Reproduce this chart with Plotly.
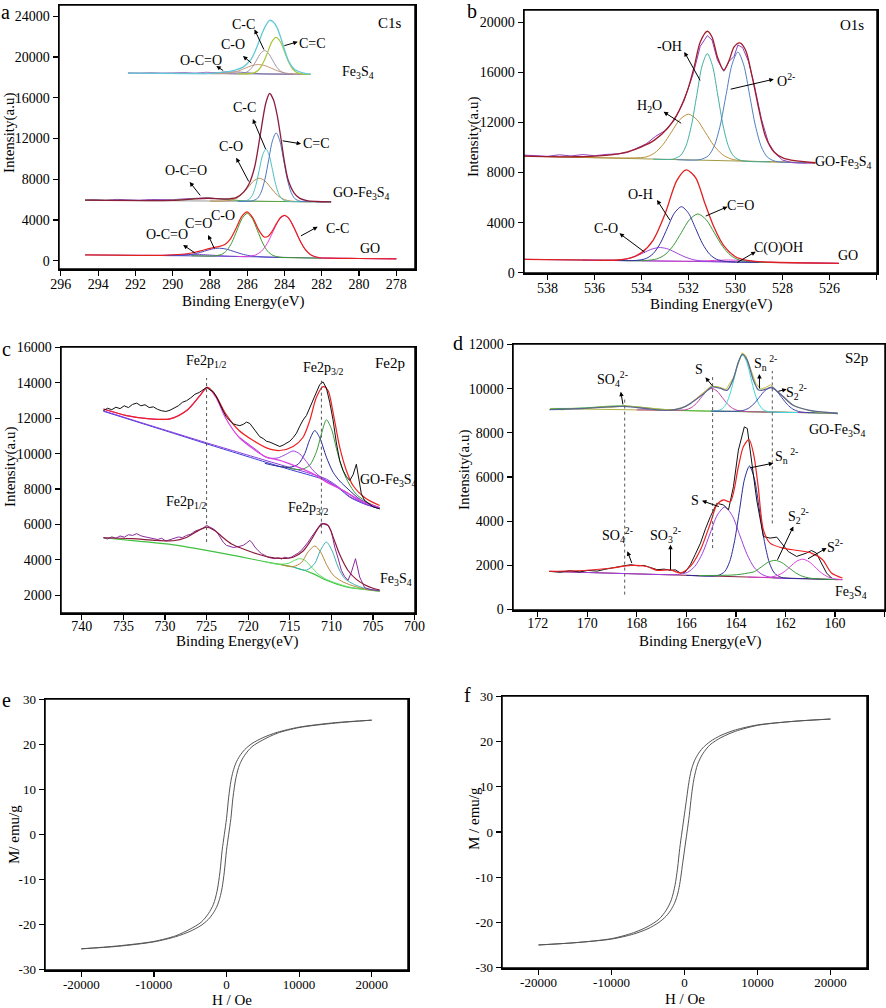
import plotly.graph_objects as go

FONT = "Liberation Serif, Times New Roman, serif"
W, H = 886, 1008

# ================= DATA =================
# ---- Panel a : C1s ----
a_go_base_x = [294.7, 290, 286, 282, 278]
a_go_base_y = [585, 510, 410, 270, 200]
a_go_cc_x = [286.5, 286.0, 285.55, 285.24, 284.93, 284.62, 284.31, 284.0, 283.69, 283.38, 283.07, 282.76, 282.45, 282.0, 281.0, 280.0, 278.0]
a_go_cc_y = [420, 433, 576, 939, 1703, 2855, 3980, 4450, 3955, 2805, 1631, 839, 453, 291, 250, 230, 200]
a_go_co_x = [289.0, 288.0, 287.76, 287.375, 287.1, 286.825, 286.55, 286.275, 286.0, 285.725, 285.45, 285.175, 284.9, 284.625, 284.24, 283.5, 282.0]
a_go_co_y = [500, 470, 487, 636, 1016, 1809, 2997, 4160, 4650, 4142, 2964, 1752, 934, 536, 357, 305, 268]
a_go_cdo_x = [290.5, 290.1, 289.5, 289.1, 288.7, 288.3, 287.9, 287.5, 287.1, 286.7, 286.3, 285.9, 285.5, 285.0, 284.0]
a_go_cdo_y = [520, 518, 535, 597, 737, 949, 1157, 1240, 1137, 909, 675, 512, 430, 366, 320]
a_go_oco_x = [291.5, 290.6, 289.7, 289.25, 288.8, 288.35, 287.9, 287.0, 286.0]
a_go_oco_y = [532, 538, 594, 627, 635, 610, 556, 460, 411]
a_go_env_x = [294.7, 292, 290.5, 289.5, 289, 288.5, 288, 287.6, 287.2, 286.9, 286.6, 286.3, 286.0, 285.7, 285.4, 285.1, 284.9, 284.7, 284.4, 284.2, 284.0, 283.8, 283.5, 283.2, 282.9, 282.6, 282.2, 281.5, 280, 278]
a_go_env_y = [585, 545, 546, 646, 772, 984, 1227, 1370, 1605, 2158, 3189, 4333, 4809, 4213, 3076, 2346, 2381, 2797, 3756, 4269, 4455, 4236, 3288, 2092, 1141, 599, 331, 260, 230, 200]

a_mid_base_x = [294.7, 281.5]
a_mid_base_y = [5950, 5790]
a_mid_cdc_x = [286.5, 285.73, 285.45, 285.25, 285.05, 284.85, 284.65, 284.45, 284.25, 284.05, 283.85, 283.65, 283.45, 283.17, 282.5, 281.5]
a_mid_cdc_y = [5850, 5883, 6135, 6748, 8020, 9914, 11769, 12557, 11764, 9905, 8006, 6730, 6111, 5853, 5805, 5790]
a_mid_cc_x = [286.5, 286.12, 285.875, 285.7, 285.525, 285.35, 285.175, 285.0, 284.825, 284.65, 284.475, 284.3, 284.125, 283.88, 283.0]
a_mid_cc_y = [5850, 5877, 6071, 6540, 7512, 8961, 10381, 10984, 10377, 8953, 7500, 6523, 6050, 5851, 5810]
a_mid_co_x = [288.0, 287.27, 286.85, 286.55, 286.25, 285.95, 285.65, 285.35, 285.05, 284.75, 284.45, 284.15, 283.85, 283.43, 282.5]
a_mid_co_y = [5865, 5872, 5954, 6158, 6585, 7222, 7845, 8108, 7838, 7208, 6564, 6131, 5921, 5830, 5805]
a_mid_oco_x = [294.7, 292, 291.1, 290.1, 289.6, 289.1, 288.6, 288.1, 287.6, 287.1, 286.6, 286.1, 285.1, 281.5]
a_mid_oco_y = [5950, 5917, 5909, 5931, 5976, 6046, 6114, 6140, 6102, 6022, 5940, 5883, 5837, 5790]
a_mid_env_x = [294.7, 290, 289, 288.1, 287.2, 286.6, 286.2, 285.9, 285.6, 285.3, 285.0, 284.8, 284.6, 284.4, 284.2, 284.0, 283.8, 283.5, 283.2, 282.8, 282.3, 281.5]
a_mid_env_y = [5950, 5937, 6061, 6140, 6060, 6199, 6738, 7558, 9229, 12377, 15514, 16420, 15822, 14339, 12101, 9664, 7900, 6700, 6150, 5900, 5820, 5790]
a_mid_raw_x = [294.7, 294.2, 293.6, 293.0, 292.4, 291.8, 291.2, 290.6, 290.0, 289.4, 288.8, 288.2, 287.6, 287.0]
a_mid_raw_y = [5960, 6010, 5940, 6030, 5990, 5950, 6020, 5980, 6000, 6080, 6120, 6180, 6090, 6070]

a_top_base_x = [292.4, 282.6]
a_top_base_y = [18420, 18300]
a_top_cdc_x = [286.5, 285.89, 285.575, 285.35, 285.125, 284.9, 284.675, 284.45, 284.225, 284.0, 283.775, 283.55, 283.325, 283.01, 282.6]
a_top_cdc_y = [18347, 18362, 18494, 18820, 19500, 20497, 21502, 21922, 21497, 20500, 19483, 18798, 18467, 18327, 18300]
a_top_cc_x = [287.0, 286.41, 286.12, 285.91, 285.7, 285.49, 285.28, 285.07, 284.86, 284.65, 284.44, 284.23, 284.02, 283.73, 283.0]
a_top_cc_y = [18355, 18362, 18445, 18652, 19086, 19731, 20363, 20631, 20358, 19720, 19069, 18631, 18418, 18328, 18305]
a_top_co_x = [288.0, 287.64, 287.15, 286.8, 286.45, 286.1, 285.75, 285.4, 285.05, 284.7, 284.35, 284.0, 283.65, 283.16, 282.6]
a_top_co_y = [18366, 18367, 18396, 18476, 18648, 18906, 19159, 19264, 19151, 18890, 18624, 18443, 18354, 18313, 18300]
a_top_oco_x = [289.5, 288.94, 288.45, 288.1, 287.75, 287.4, 287.05, 286.7, 286.35, 286.0, 285.65, 285.3, 284.95, 284.46, 283.5]
a_top_oco_y = [18384, 18378, 18379, 18391, 18420, 18467, 18513, 18530, 18505, 18451, 18396, 18358, 18337, 18324, 18311]
a_top_env_x = [292.4, 289, 288, 287.3, 286.7, 286.2, 285.8, 285.5, 285.2, 285.0, 284.8, 284.6, 284.4, 284.2, 284.0, 283.8, 283.5, 283.2, 282.9, 282.6]
a_top_env_y = [18420, 18380, 18399, 18506, 18696, 19031, 19756, 20897, 22329, 23100, 23600, 23444, 22879, 21888, 20716, 19675, 18850, 18550, 18400, 18300]
a_top_raw_x = [292.4, 291.8, 291.2, 290.6, 290.0, 289.4, 288.8, 288.2, 287.6, 287.0]
a_top_raw_y = [18430, 18400, 18460, 18410, 18440, 18480, 18420, 18500, 18450, 18560]

# ---- Panel b : O1s ----
b_go_base_x = [539, 525.6]
b_go_base_y = [1065, 745]
b_go_oh_x = [535.5, 534.22, 533.8, 533.5, 533.2, 532.9, 532.6, 532.3, 532.0, 531.7, 531.4, 531.1, 530.8, 530.38, 529.0]
b_go_oh_y = [985, 977, 1133, 1525, 2344, 3567, 4765, 5270, 4750, 3538, 2301, 1468, 1061, 885, 826]
b_go_cdo_x = [535.0, 533.84, 533.35, 533.0, 532.65, 532.3, 531.95, 531.6, 531.25, 530.9, 530.55, 530.2, 529.85, 529.36, 528.0]
b_go_cdo_y = [970, 966, 1098, 1437, 2149, 3213, 4255, 4694, 4238, 3180, 2099, 1370, 1014, 858, 802]
b_go_co_x = [536.5, 535.44, 534.95, 534.6, 534.25, 533.9, 533.55, 533.2, 532.85, 532.5, 532.15, 531.8, 531.45, 530.96, 530.0]
b_go_co_y = [1005, 988, 1016, 1107, 1304, 1599, 1889, 2007, 1872, 1565, 1253, 1040, 933, 881, 850]
b_go_cooh_x = [534, 532.6, 532.2, 531.8, 531.4, 531.0, 530.6, 530.2, 529.8, 529.4, 529.0, 528.6, 528.2, 527, 525.6]
b_go_cooh_y = [946, 915, 910, 913, 933, 965, 996, 1005, 977, 927, 875, 837, 814, 779, 745]
b_go_env_x = [539, 536, 535, 534.5, 534, 533.5, 533, 532.5, 532.1, 531.7, 531.3, 530.9, 530.5, 530, 529.5, 529, 528.5, 527.5, 525.6]
b_go_env_y = [1065, 993, 1009, 1157, 1598, 2606, 4683, 7360, 8220, 7600, 5526, 3571, 2157, 1274, 982, 879, 830, 790, 745]

b_top_base_x = [539, 526.6]
b_top_base_y = [9320, 8780]
b_top_oh_x = [533.5, 532.64, 532.325, 532.1, 531.875, 531.65, 531.425, 531.2, 530.975, 530.75, 530.525, 530.3, 530.075, 529.76, 528.5]
b_top_oh_y = [9075, 9088, 9398, 10169, 11777, 14174, 16522, 17515, 16502, 14136, 11719, 10091, 9301, 8964, 8858]
b_top_o2_x = [532.5, 531.5, 531.15, 530.9, 530.65, 530.4, 530.15, 529.9, 529.65, 529.4, 529.15, 528.9, 528.65, 528.3, 527.0]
b_top_o2_y = [9032, 9040, 9356, 10143, 11784, 14233, 16631, 17645, 16609, 14189, 11719, 10057, 9248, 8901, 8793]
b_top_h2o_x = [539, 535.5, 534.3, 533.8, 533.44, 533.08, 532.72, 532.36, 532.0, 531.64, 531.28, 530.92, 530.56, 530.2, 529.7, 528.5, 526.6]
b_top_h2o_y = [9320, 9177, 9175, 9253, 9573, 10249, 11263, 12256, 12670, 12225, 11201, 10155, 9447, 9097, 8937, 8863, 8780]
b_top_env_x = [539, 536.8, 535.4, 534.6, 534.0, 533.45, 532.9, 532.5, 532.04, 531.76, 531.5, 531.2, 531.0, 530.77, 530.5, 530.27, 530.06, 529.82, 529.57, 529.29, 529.0, 528.72, 528.37, 527.94, 526.6]
b_top_env_y = [9317, 9264, 9397, 9663, 10062, 10595, 11526, 12591, 14588, 16451, 18447, 19300, 18847, 17250, 16185, 16984, 18048, 18368, 17782, 15652, 12990, 10861, 9663, 9131, 8785]
b_top_raw_x = [539, 538.5, 538, 537.5, 537, 536.5, 536, 535.5, 535, 534.6, 534.2, 533.8, 533.4, 533.0, 532.6, 532.2, 531.8, 531.5, 531.2, 531.0, 530.77, 530.5, 530.27, 530.06, 529.9, 529.7, 529.45, 529.2, 528.9, 528.6, 528.3, 528.0, 527.6, 527.2, 526.6]
b_top_raw_y = [9400, 9380, 9300, 9420, 9330, 9440, 9350, 9450, 9500, 9600, 9980, 10300, 10900, 11350, 12200, 13700, 15900, 18100, 18950, 18600, 17000, 16100, 16900, 17300, 18200, 18000, 16900, 15000, 12300, 10400, 9500, 9000, 8800, 8750, 8760]

# ---- Panel c : Fe2p ----
c_top_raw_x = [737.4, 736.9, 736.4, 735.9, 735.4, 734.9, 734.4, 733.9, 733.4, 732.9, 732.4, 731.9, 731.4, 730.9, 730.4, 729.9, 729.4, 728.9, 728.4, 727.9, 727.4, 726.9, 726.4, 725.9, 725.4, 725.0, 724.6, 724.2, 723.8, 723.4, 723.0, 722.6, 722.2, 721.8, 721.4, 721.0, 720.6, 720.2, 719.8, 719.4, 719.0, 718.6, 718.2, 717.8, 717.4, 717.0, 716.6, 716.2, 715.8, 715.4, 715.0, 714.6, 714.2, 713.8, 713.4, 713.0, 712.6, 712.2, 711.8, 711.4, 711.0, 710.6, 710.2, 709.8, 709.4, 709.0, 708.6, 708.2, 707.8, 707.4, 707.0, 706.7, 706.4, 706.0, 705.5, 705.0, 704.2]
c_top_raw_y = [12430, 12560, 12480, 12620, 12540, 12700, 12600, 12780, 12850, 12700, 12760, 12600, 12640, 12500, 12420, 12380, 12450, 12560, 12700, 12900, 12990, 13150, 13350, 13450, 13620, 13740, 13600, 13500, 13200, 12750, 12400, 12050, 11850, 11680, 11620, 11580, 11650, 11780, 11700, 11450, 11200, 10950, 10850, 10700, 10650, 10560, 10450, 10400, 10480, 10600, 10700, 10900, 11150, 11550, 11900, 12150, 12600, 13000, 13500, 13900, 14050, 13700, 12900, 11900, 10600, 9600, 9050, 8700, 8480, 8800, 9400, 8500, 7730, 7350, 7150, 7000, 6880]
c_top_env_x = [737.4, 734.6, 731.8, 729.4, 727.4, 725.8, 724.9, 723.9, 722.7, 721.1, 719.4, 717.8, 716.2, 714.6, 713.4, 712.6, 711.8, 711.0, 710.4, 709.8, 709.0, 708.2, 707.4, 705.8, 704.2]
c_top_env_y = [12520, 12150, 11960, 11960, 12430, 13276, 13744, 13276, 12244, 11303, 10740, 10327, 10175, 10401, 10925, 11866, 13180, 13784, 13558, 12335, 10361, 9048, 8200, 7449, 7073]
c_top_bg_x = [737.4, 733, 729, 725, 721, 717.5, 714.6, 712.5, 710.6, 709, 707.8, 706, 704.2]
c_top_bg_y = [12391, 11740, 11150, 10553, 9970, 9460, 9048, 8770, 8484, 8000, 7543, 7150, 6885]
c_top_bg2_y = [12420, 11770, 11190, 10610, 10050, 9560, 9160, 8870, 8560, 8060, 7580, 7170, 6890]
c_top_mag_x = [737.4, 734.6, 731.8, 729.4, 727.4, 725.8, 724.9, 723.9, 722.7, 721.1, 719.4, 717.8, 716.2, 714.6, 712.2, 710.6, 708.5, 706.5, 704.2]
c_top_mag_y = [12520, 12150, 11960, 11960, 12430, 13276, 13744, 13200, 12000, 10925, 10271, 9800, 9620, 9350, 8860, 8390, 7900, 7350, 6950]
c_top_vio_x = [721, 719, 717.8, 716.5, 715.5, 714.6, 713.8, 713.0, 712.2, 711.2, 710.0, 708.5, 706.5, 704.2]
c_top_vio_y = [10900, 10200, 9780, 9750, 9950, 10150, 9980, 9550, 9050, 8650, 8300, 7900, 7300, 6900]
c_top_navy_x = [718, 716, 715, 714, 713.2, 712.6, 712.0, 711.4, 710.6, 709.8, 709.0, 708, 706.5, 704.2]
c_top_navy_y = [9450, 9250, 9230, 9400, 10000, 10800, 11300, 10900, 9800, 8950, 8450, 8000, 7400, 6920]
c_top_grn_x = [716, 714.5, 713.5, 712.6, 711.8, 711.2, 710.6, 710.0, 709.4, 708.8, 708.0, 707.0, 705.5, 704.2]
c_top_grn_y = [9300, 9120, 9120, 9350, 10100, 11100, 11906, 11400, 10300, 9300, 8400, 7700, 7200, 6950]

c_bot_raw_x = [737.4, 736.9, 736.4, 735.9, 735.4, 734.9, 734.4, 733.9, 733.4, 732.9, 732.4, 731.9, 731.4, 730.9, 730.4, 729.9, 729.4, 728.9, 728.4, 727.9, 727.4, 726.9, 726.4, 725.9, 725.4, 725.0, 724.6, 724.2, 723.8, 723.4, 723.0, 722.6, 722.2, 721.8, 721.4, 721.0, 720.6, 720.2, 719.8, 719.5, 719.2, 718.8, 718.4, 718.0, 717.6, 717.2, 716.8, 716.4, 716.0, 715.6, 715.2, 714.8, 714.4, 714.0, 713.6, 713.2, 712.8, 712.4, 712.0, 711.6, 711.2, 710.8, 710.4, 710.0, 709.6, 709.2, 708.8, 708.4, 708.0, 707.6, 707.1, 706.6, 706.0, 705.5, 705.0, 704.2]
c_bot_raw_y = [5253, 5180, 5300, 5220, 5350, 5280, 5420, 5380, 5480, 5360, 5300, 5240, 5197, 5150, 5220, 5063, 5140, 5210, 5290, 5260, 5380, 5450, 5620, 5700, 5800, 5947, 5850, 5750, 5600, 5300, 5000, 4819, 4780, 4700, 4724, 4760, 4819, 4950, 5101, 4950, 4724, 4520, 4350, 4255, 4150, 4100, 4069, 4120, 4050, 4150, 4100, 4159, 4250, 4380, 4537, 4750, 5000, 5289, 5550, 5850, 6076, 6000, 5947, 5600, 4724, 4100, 3410, 3050, 2846, 3300, 4069, 3032, 2434, 2350, 2300, 2282]
c_bot_env_x = [737.4, 734, 731, 729, 727.5, 726, 725, 724, 723, 722, 720.5, 719, 717.5, 716, 714.6, 713.4, 712.4, 711.5, 711, 710.4, 709.8, 709, 708, 707, 706, 705, 704.2]
c_bot_env_y = [5250, 5200, 5100, 5080, 5250, 5650, 5850, 5650, 5250, 4900, 4600, 4350, 4150, 4080, 4150, 4500, 5150, 5850, 6040, 5950, 5300, 4300, 3400, 2900, 2600, 2400, 2300]
c_bot_bg_x = [737.4, 733, 729, 725, 721, 717.8, 714.6, 712.2, 710.6, 708.2, 706, 704.2]
c_bot_bg_y = [5250, 5050, 4850, 4537, 4180, 3880, 3598, 3223, 2846, 2470, 2330, 2230]
c_bot_lg_x = [718, 716.5, 715.2, 714.4, 713.8, 713.2, 712.4, 711.6, 710.6, 709.5, 708, 706, 704.2]
c_bot_lg_y = [3900, 3760, 3800, 3980, 4069, 3980, 3600, 3200, 2900, 2700, 2480, 2330, 2230]
c_bot_brn_x = [716, 714.6, 713.6, 712.8, 712.0, 711.3, 710.6, 709.8, 708.8, 707.5, 706, 704.2]
c_bot_brn_y = [3720, 3620, 3850, 4450, 4781, 4450, 3750, 3150, 2800, 2550, 2350, 2240]
c_bot_teal_x = [714.5, 713.0, 712.0, 711.3, 710.6, 709.9, 709.2, 708.4, 707.2, 706, 704.2]
c_bot_teal_y = [3580, 3420, 3800, 4550, 5005, 4500, 3600, 2950, 2600, 2400, 2250]

# ---- Panel d : S2p ----
d_top_base_x = [171.5, 159.9]
d_top_base_y = [9100, 8890]
d_top_so4_x = [171.5, 170.6, 170.1, 169.6, 169.1, 168.6, 168.1, 167.6, 167.1, 166.6, 165.5, 164.0, 162.0, 159.9]
d_top_so4_y = [9103, 9107, 9130, 9169, 9207, 9218, 9188, 9132, 9075, 9034, 8991, 8964, 8928, 8890]
d_top_s_x = [168.0, 167.0, 166.31, 166.02, 165.81, 165.6, 165.39, 165.18, 164.97, 164.76, 164.55, 164.34, 164.13, 163.92, 163.63, 162.5, 161.0]
d_top_s_y = [9039, 9030, 9026, 9046, 9136, 9327, 9612, 9893, 10010, 9885, 9597, 9305, 9106, 9008, 8964, 8937, 8910]
d_top_sn_x = [165.0, 164.79, 164.555, 164.39, 164.225, 164.06, 163.895, 163.73, 163.565, 163.4, 163.235, 163.07, 162.905, 162.67, 161.5]
d_top_sn_y = [8982, 8993, 9086, 9317, 9799, 10518, 11221, 11519, 11215, 10506, 9781, 9293, 9056, 8955, 8919]
d_top_s2_x = [165.0, 164.04, 163.725, 163.5, 163.275, 163.05, 162.825, 162.6, 162.375, 162.15, 161.925, 161.7, 161.475, 161.16, 159.9]
d_top_s2_y = [8982, 8978, 9007, 9104, 9308, 9614, 9914, 10039, 9906, 9598, 9284, 9072, 8967, 8920, 8890]
d_top_env_x = [171.53, 170.2, 168.52, 167.5, 166.78, 166.2, 165.84, 165.3, 164.97, 164.65, 164.36, 164.1, 163.9, 163.74, 163.55, 163.3, 163.1, 162.96, 162.75, 162.55, 162.3, 161.95, 161.69, 161.02, 160.4, 159.88]
d_top_env_y = [9051, 9100, 9200, 9080, 9020, 9120, 9322, 9773, 10071, 10020, 9922, 10450, 11200, 11546, 11300, 10400, 9950, 9922, 9990, 10071, 9850, 9500, 9246, 9020, 8930, 8871]
d_top_raw_x = [171.5, 171.0, 170.5, 170.0, 169.5, 169.0, 168.5, 168.0, 167.5, 167.0, 166.5, 166.0, 165.6, 165.3, 165.0, 164.7, 164.4, 164.1, 163.9, 163.75, 163.6, 163.4, 163.2, 163.0, 162.8, 162.6, 162.4, 162.2, 161.9, 161.6, 161.2, 160.8, 160.4, 159.9]
d_top_raw_y = [9080, 9040, 9110, 9090, 9170, 9150, 9230, 9180, 9120, 9060, 9050, 9200, 9550, 9820, 10120, 10080, 9960, 10500, 11150, 11620, 11500, 10900, 10250, 9980, 10050, 10180, 9950, 9700, 9400, 9200, 9050, 8950, 8900, 8880]

d_bot_base_x = [171.53, 159.7]
d_bot_base_y = [1727, 1349]
d_bot_raw_x = [171.53, 171.1, 170.7, 170.3, 169.99, 169.6, 169.3, 169.05, 168.65, 168.25, 167.95, 167.72, 167.45, 167.18, 166.9, 166.64, 166.45, 166.24, 166.05, 165.84, 165.64, 165.43, 165.23, 165.03, 164.77, 164.5, 164.3, 164.1, 163.9, 163.66, 163.54, 163.36, 163.16, 162.89, 162.62, 162.35, 162.15, 161.89, 161.55, 161.15, 160.95, 160.75, 160.55, 160.34, 160.14]
d_bot_raw_y = [1727, 1690, 1760, 1700, 1773, 1740, 1820, 1880, 1954, 2030, 1980, 1998, 1900, 1804, 1830, 1773, 1800, 1655, 1700, 2030, 2500, 3008, 3650, 4208, 4812, 4736, 4510, 5561, 7216, 8267, 8195, 6765, 4961, 3306, 3234, 3279, 3008, 2629, 2404, 2557, 2674, 2557, 2106, 1655, 1430]
d_bot_env_x = [171.53, 170, 169, 168.25, 167.6, 167.18, 166.64, 166.24, 165.84, 165.43, 165.03, 164.77, 164.5, 164.23, 163.9, 163.7, 163.47, 163.29, 163.1, 162.89, 162.62, 162.1, 161.5, 160.95, 160.5, 160.14, 159.7]
d_bot_env_y = [1727, 1780, 1880, 1998, 1950, 1773, 1800, 1655, 1954, 2707, 3909, 4736, 4961, 4887, 6464, 7366, 7697, 7066, 5561, 3608, 3008, 2782, 2674, 2557, 2255, 1655, 1430]
d_bot_s_x = [171.5, 167.0, 166.37, 165.95, 165.65, 165.35, 165.05, 164.75, 164.45, 164.15, 163.85, 163.55, 163.25, 162.95, 162.53, 161.5]
d_bot_s_y = [1730, 1584, 1583, 1688, 1965, 2549, 3422, 4278, 4642, 4258, 3384, 2497, 1887, 1592, 1441, 1407]
d_bot_sn_x = [166.0, 164.73, 164.45, 164.25, 164.05, 163.85, 163.65, 163.45, 163.25, 163.05, 162.85, 162.65, 162.45, 162.17, 161.0, 159.9]
d_bot_sn_y = [1552, 1541, 1723, 2175, 3122, 4533, 5915, 6499, 5902, 4507, 3083, 2123, 1658, 1458, 1391, 1355]
d_bot_s2_x = [165.5, 164.18, 163.795, 163.52, 163.245, 162.97, 162.695, 162.42, 162.145, 161.87, 161.595, 161.32, 161.045, 160.66, 159.9]
d_bot_s2_y = [1540, 1560, 1600, 1650, 1720, 1933, 2143, 2227, 2125, 1898, 1667, 1508, 1427, 1385, 1355]
d_bot_sm_x = [163.5, 162.9, 162.55, 162.3, 162.05, 161.8, 161.55, 161.3, 161.05, 160.8, 160.55, 160.3, 160.05, 159.7]
d_bot_sm_y = [1471, 1457, 1480, 1552, 1711, 1951, 2186, 2280, 2169, 1918, 1662, 1487, 1399, 1355]

# ---- Panels e, f : hysteresis ----
e_up_H = [20000, 15000, 10000, 7000, 5000, 3500, 2500, 1800, 1300, 900, 600, 300, 0, -300, -600, -900, -1300, -1800, -2500, -3500, -5000, -7000, -10000, -15000, -20000]
e_up_M = [25.4, 24.85, 23.85, 22.7, 21.5, 20.2, 18.85, 17.4, 15.9, 14.0, 11.8, 8.3, 3.5, 0, -3.5, -8.3, -12.6, -15.5, -17.6, -19.5, -21.0, -22.5, -23.75, -24.75, -25.4]
e_lo_H = [-20000, -15000, -10000, -7000, -5000, -3500, -2500, -1800, -1300, -900, -600, -300, 0, 300, 600, 900, 1300, 1800, 2500, 3500, 5000, 7000, 10000, 15000, 20000]
e_lo_M = [-25.4, -24.85, -23.85, -22.7, -21.5, -20.2, -18.85, -17.4, -15.9, -14.0, -11.8, -8.3, -3.5, 0, 3.5, 8.3, 12.6, 15.5, 17.6, 19.5, 21.0, 22.5, 23.75, 24.75, 25.4]
f_up_H = [20000, 15000, 10000, 7000, 5000, 3500, 2500, 1800, 1300, 900, 600, 300, 0, -350, -650, -950, -1300, -1800, -2500, -3500, -5000, -7000, -10000, -15000, -20000]
f_up_M = [25.0, 24.5, 23.7, 22.6, 21.4, 20.0, 18.6, 17.1, 15.5, 13.5, 11.0, 7.5, 4.0, 0, -3.6, -8.0, -11.8, -15.0, -17.3, -19.3, -20.9, -22.3, -23.6, -24.5, -25.0]
f_lo_H = [-20000, -15000, -10000, -7000, -5000, -3500, -2500, -1800, -1300, -900, -600, -300, 0, 350, 650, 950, 1300, 1800, 2500, 3500, 5000, 7000, 10000, 15000, 20000]
f_lo_M = [-25.0, -24.5, -23.7, -22.6, -21.4, -20.0, -18.6, -17.1, -15.5, -13.5, -11.0, -7.5, -4.0, 0, 3.6, 8.0, 11.8, 15.0, 17.3, 19.3, 20.9, 22.3, 23.6, 24.5, 25.0]

hyst_x_ticks = [-20000, -10000, 0, 10000, 20000]
hyst_x_text = ["-20000", "-10000", "0", "10000", "20000"]
hyst_y_ticks = [-30, -20, -10, 0, 10, 20, 30]
hyst_y_text = ["-30", "-20", "-10", "0", "10", "20", "30"]

# labels: (x, y, text)
a_labels = [(286.2, 23220, "C-C"), (286.77, 21240, "C-O"), (288.46, 19680, "O-C=O"), (282.5, 21340, "C=C"),
            (280.04, 18470, "Fe<sub>3</sub>S<sub>4</sub>"), (278.35, 23350, "C1s"),
            (286.14, 15050, "C-C"), (286.86, 11250, "C-O"), (289.26, 8880, "O-C=O"), (282.3, 11480, "C=C"),
            (279.85, 6600, "GO-Fe<sub>3</sub>S<sub>4</sub>"),
            (287.3, 4490, "C-O"), (288.6, 3680, "C=O"), (290.3, 2540, "O-C=O"), (281.15, 3150, "C-C"), (279.42, 1240, "GO")]
a_arrows = [(285.07, 20585, 285.61, 22700), (285.7, 19290, 286.23, 20100), (287.21, 18570, 287.66, 19120),
            (284.09, 21070, 283.29, 21490), (284.98, 10830, 285.7, 13920), (285.88, 7640, 286.59, 10120),
            (288.46, 6270, 289.09, 7740), (284.18, 11800, 283.11, 11480), (287.73, 1073, 288.1, 2537),
            (288.73, 683, 289.44, 1561), (283.2, 2370, 282.22, 3346)]
b_labels = [(525.05, 19780, "O1s"), (532.8, 18050, "-OH"), (527.87, 15390, "O<sup>2-</sup>"),
            (533.66, 13310, "H<sub>2</sub>O"), (525.4, 8785, "GO-Fe<sub>3</sub>S<sub>4</sub>"),
            (534.05, 6256, "O-H"), (529.8, 5400, "C=O"), (535.5, 3540, "C-O"), (528.16, 1943, "C(O)OH"), (525.2, 1330, "GO")]
b_arrows = [(531.47, 15250, 532.18, 17650), (530.27, 14640, 528.37, 15470), (532.25, 11870, 533.06, 12860),
            (532.75, 4073, 533.34, 5803), (531.33, 4472, 530.34, 5271), (533.8, 1544, 534.94, 3141),
            (529.99, 745, 529.14, 1677)]
c_labels = [(725.0, 15210, "Fe2p<sub>1/2</sub>"), (711.0, 14780, "Fe2p<sub>3/2</sub>"), (703.0, 15120, "Fe2p"),
            (703.1, 8480, "GO-Fe<sub>3</sub>S<sub>4</sub>"), (727.4, 7260, "Fe2p<sub>1/2</sub>"),
            (712.8, 6890, "Fe2p<sub>3/2</sub>"), (702.2, 2880, "Fe<sub>3</sub>S<sub>4</sub>")]
c_dotted = [(725.0, 5006, 14270), (711.2, 5476, 14270)]
d_labels = [(159.14, 11370, "S2p"), (168.99, 10440, "SO<sub>4</sub><sup>2-</sup>"), (165.5, 10870, "S"),
            (162.82, 11140, "S<sub>n</sub><sup> 2-</sup>"), (161.55, 9860, "S<sub>2</sub><sup>2-</sup>"),
            (159.9, 8090, "GO-Fe<sub>3</sub>S<sub>4</sub>"), (161.95, 6930, "S<sub>n</sub><sup> 2-</sup>"),
            (165.66, 4920, "S"), (161.48, 4220, "S<sub>2</sub><sup>2-</sup>"), (160.0, 2860, "S<sup>2-</sup>"),
            (168.78, 3390, "SO<sub>4</sub><sup>2-</sup>"), (166.84, 3390, "SO<sub>3</sub><sup>2-</sup>"),
            (159.34, 750, "Fe<sub>3</sub>S<sub>4</sub>")]
d_arrows = [(168.55, 9217, 168.65, 9864), (164.9, 10060, 165.23, 10512), (163.05, 9940, 163.05, 10662),
            (162.35, 9864, 161.95, 9970), (163.5, 6400, 162.49, 6626), (164.63, 4638, 165.37, 4925),
            (162.35, 2184, 161.68, 3765), (161.15, 2259, 160.34, 2786), (168.18, 2033, 168.38, 2636),
            (166.64, 1732, 166.64, 2937)]
d_dotted = [(168.49, 677, 9548), (164.94, 2782, 10522), (162.53, 3900, 10800)]

# ================= FIGURE =================
PANEL_PX = {1: (59, 415, 5, 269), 2: (524, 877, 10, 273), 3: (61, 415, 347, 613),
            4: (513, 885, 344, 610), 5: (45, 408, 699, 970), 6: (502, 867, 696, 968)}

fig = go.Figure()


def xr(p):
    return 'x' if p == 1 else f'x{p}'


def yr(p):
    return 'y' if p == 1 else f'y{p}'


def line(p, xs, ys, color, width=1.0, shape='spline'):
    ln = dict(color=color, width=width, shape=shape)
    if shape == 'spline':
        ln['smoothing'] = 0.8
    fig.add_trace(go.Scatter(x=xs, y=ys, mode='lines', line=ln, xaxis=xr(p), yaxis=yr(p),
                             hoverinfo='skip', showlegend=False))


# panel a
line(1, a_go_base_x, a_go_base_y, '#6a4cc8')
line(1, a_go_oco_x, a_go_oco_y, '#7a4ad0')
line(1, a_go_cdo_x, a_go_cdo_y, '#4a4ac0')
line(1, a_go_co_x, a_go_co_y, '#3c9a2a')
line(1, a_go_cc_x, a_go_cc_y, '#e23ee0')
line(1, a_go_env_x, a_go_env_y, '#e8201c', 1.2)
line(1, a_mid_base_x, a_mid_base_y, '#9a9a9a', shape='linear')
line(1, a_mid_raw_x, a_mid_raw_y, '#9050b0', shape='linear')
line(1, a_mid_oco_x, a_mid_oco_y, '#5aa83a')
line(1, a_mid_co_x, a_mid_co_y, '#b88a40')
line(1, a_mid_cc_x, a_mid_cc_y, '#50c0c0')
line(1, a_mid_cdc_x, a_mid_cdc_y, '#4a78c0')
line(1, a_mid_env_x, a_mid_env_y, '#8c1c3c', 1.3)
line(1, a_top_base_x, a_top_base_y, '#7a7aa0', shape='linear')
line(1, a_top_raw_x, a_top_raw_y, '#c868c0', shape='linear')
line(1, a_top_oco_x, a_top_oco_y, '#8070b0')
line(1, a_top_co_x, a_top_co_y, '#c89878')
line(1, a_top_cc_x, a_top_cc_y, '#a090a8')
line(1, a_top_cdc_x, a_top_cdc_y, '#a8c83a', 1.2)
line(1, a_top_env_x, a_top_env_y, '#60c8d8', 1.3)

# panel b
line(2, b_go_base_x, b_go_base_y, '#6040c0', shape='linear')
line(2, b_go_cooh_x, b_go_cooh_y, '#e040d0')
line(2, b_go_co_x, b_go_co_y, '#a040e0')
line(2, b_go_cdo_x, b_go_cdo_y, '#3a9a3a')
line(2, b_go_oh_x, b_go_oh_y, '#3030a0')
line(2, b_go_env_x, b_go_env_y, '#e02020', 1.3)
line(2, b_top_base_x, b_top_base_y, '#a09a40', shape='linear')
line(2, b_top_h2o_x, b_top_h2o_y, '#b8903c')
line(2, b_top_oh_x, b_top_oh_y, '#40b0a0')
line(2, b_top_o2_x, b_top_o2_y, '#4f80c0')
line(2, b_top_raw_x, b_top_raw_y, '#9040c0', shape='linear')
line(2, b_top_env_x, b_top_env_y, '#a01c2c', 1.3)

# panel c
line(3, c_top_bg_x, c_top_bg_y, '#3a3ad8')
line(3, c_top_bg_x, c_top_bg2_y, '#8a3ae0')
line(3, c_top_grn_x, c_top_grn_y, '#3a9a3a')
line(3, c_top_navy_x, c_top_navy_y, '#2a2a9a')
line(3, c_top_vio_x, c_top_vio_y, '#9a40e0')
line(3, c_top_mag_x, c_top_mag_y, '#e040e0', 1.2)
line(3, c_top_env_x, c_top_env_y, '#ee2020', 1.2)
line(3, c_top_raw_x, c_top_raw_y, '#111111', shape='linear')
line(3, c_bot_bg_x, c_bot_bg_y, '#40c040', 1.2)
line(3, c_bot_lg_x, c_bot_lg_y, '#60e060')
line(3, c_bot_brn_x, c_bot_brn_y, '#b8863b')
line(3, c_bot_teal_x, c_bot_teal_y, '#40b0b0')
line(3, c_bot_raw_x, c_bot_raw_y, '#8a2aa0', shape='linear')
line(3, c_bot_env_x, c_bot_env_y, '#8a1a3a', 1.2)

# panel d
line(4, d_top_base_x, d_top_base_y, '#b0b040', shape='linear')
line(4, d_top_so4_x, d_top_so4_y, '#40c040')
line(4, d_top_s_x, d_top_s_y, '#c040a0')
line(4, d_top_sn_x, d_top_sn_y, '#40d8d8')
line(4, d_top_s2_x, d_top_s2_y, '#4040b0')
line(4, d_top_raw_x, d_top_raw_y, '#c8c040', shape='linear')
line(4, d_top_env_x, d_top_env_y, '#5a6890', 1.3)
line(4, d_bot_base_x, d_bot_base_y, '#8a2040', shape='linear')
line(4, d_bot_s_x, d_bot_s_y, '#a040e0')
line(4, d_bot_sn_x, d_bot_sn_y, '#2a2a9a')
line(4, d_bot_s2_x, d_bot_s2_y, '#3a9a3a')
line(4, d_bot_sm_x, d_bot_sm_y, '#e040e0')
line(4, d_bot_raw_x, d_bot_raw_y, '#111111', shape='linear')
line(4, d_bot_env_x, d_bot_env_y, '#ee2020', 1.2)

# panels e, f
line(5, e_up_H, e_up_M, '#555555', 1.0)
line(5, e_lo_H, e_lo_M, '#555555', 1.0)
line(6, f_up_H, f_up_M, '#555555', 1.0)
line(6, f_lo_H, f_lo_M, '#555555', 1.0)

# ---------- axes ----------
XR = {1: [296.1, 277], 2: [539, 523.98], 3: [742.5, 699.95], 4: [173, 157.98], 5: [-25000, 25000], 6: [-25000, 25000]}
YR = {1: [-800, 25100], 2: [-30, 21000], 3: [1000, 16020], 4: [-20, 12020], 5: [-30.1, 30.1], 6: [-30.1, 30.1]}
XD = {1: 2, 2: 2, 3: 5, 4: 2}
YD = {1: 4000, 2: 4000, 3: 2000, 4: 2000}
XSTAND = {1: -3, 2: -3, 3: -5, 4: -5, 5: -3, 6: -3}

layout = dict(width=W, height=H, autosize=False,
              margin=dict(l=0, r=0, t=0, b=0, pad=0, autoexpand=False),
              paper_bgcolor='white', plot_bgcolor='white', showlegend=False,
              font=dict(family=FONT, color='black'))
shapes = []
for p in range(1, 7):
    l, r, t, b = PANEL_PX[p]
    fs = 14 if p <= 4 else 13
    common = dict(showline=True, linecolor='#000000', linewidth=1.5, mirror=True, ticks='outside',
                  ticklen=5, tickwidth=1.2, tickcolor='#000000', showgrid=False, zeroline=False,
                  automargin=False, layer='above traces',
                  tickfont=dict(family=FONT, size=fs, color='black'), fixedrange=True)
    xa = dict(common, domain=[l / W, r / W], range=XR[p], anchor=yr(p), ticklabelstandoff=XSTAND[p])
    ya = dict(common, domain=[1 - b / H, 1 - t / H], range=YR[p], anchor=xr(p))
    if p <= 4:
        xa.update(dtick=XD[p], tick0=0, tickformat='d')
        ya.update(dtick=YD[p], tick0=0, tickformat='d')
    else:
        xa.update(tickmode='array', tickvals=hyst_x_ticks, ticktext=hyst_x_text)
        ya.update(tickmode='array', tickvals=hyst_y_ticks, ticktext=hyst_y_text)
    key = '' if p == 1 else str(p)
    layout['xaxis' + key] = xa
    layout['yaxis' + key] = ya
    shapes.append(dict(type='rect', xref='paper', yref='paper', x0=l / W, x1=r / W,
                       y0=1 - b / H, y1=1 - t / H, line=dict(color='black', width=1.5),
                       fillcolor='rgba(0,0,0,0)', layer='above'))

anns = []


def text(p, x, y, s, size=14):
    anns.append(dict(x=x, y=y, xref=xr(p), yref=yr(p), text=s, showarrow=False,
                     font=dict(family=FONT, size=size, color='black'), xanchor='center', yanchor='middle'))


def arrow(p, tx, ty, hx, hy):
    anns.append(dict(x=hx, y=hy, ax=tx, ay=ty, xref=xr(p), yref=yr(p), axref=xr(p), ayref=yr(p),
                     text='', showarrow=True, arrowhead=2, arrowsize=0.9, arrowwidth=1,
                     arrowcolor='black', standoff=0, startstandoff=0))


for p, labs, arrs in [(1, a_labels, a_arrows), (2, b_labels, b_arrows), (3, c_labels, []), (4, d_labels, d_arrows)]:
    for (x, y, s) in labs:
        text(p, x, y, s, 15 if s in ('C1s', 'O1s', 'Fe2p', 'S2p') else 14)
    for (tx, ty, hx, hy) in arrs:
        arrow(p, tx, ty, hx, hy)

for p, dl in [(3, c_dotted), (4, d_dotted)]:
    for (x, y0, y1) in dl:
        shapes.append(dict(type='line', xref=xr(p), yref=yr(p), x0=x, x1=x, y0=y0, y1=y1,
                           line=dict(color='#555555', width=1, dash='dot')))


def paper_text(px, py, s, size=15, angle=0):
    anns.append(dict(x=px / W, y=1 - py / H, xref='paper', yref='paper', text=s, showarrow=False,
                     textangle=angle, font=dict(family=FONT, size=size, color='black'),
                     xanchor='center', yanchor='middle'))


paper_text(243.5, 301, "Binding Energy(eV)")
paper_text(711.7, 304, "Binding Energy(eV)")
paper_text(237.5, 641, "Binding Energy(eV)")
paper_text(700, 641, "Binding Energy(eV)")
paper_text(232.5, 1000, "H / Oe")
paper_text(685, 999, "H / Oe")
paper_text(10, 133, "Intensity(a.u)", angle=-90)
paper_text(474, 137, "Intensity(a.u)", angle=-90)
paper_text(10, 467, "Intensity(a.u)", angle=-90)
paper_text(464, 470, "Intensity(a.u)", angle=-90)
paper_text(14, 835, "M/ emu/g", angle=-90)
paper_text(474, 819, "M / emu/g", angle=-90)
for (px, py, s) in [(5, 12, 'a'), (472, 11, 'b'), (6, 349, 'c'), (458, 343, 'd'), (6, 700, 'e'), (467, 695, 'f')]:
    paper_text(px, py, s, size=20)

layout['annotations'] = anns
layout['shapes'] = shapes
fig.update_layout(**layout)
fig.write_html("out.html", config={'displayModeBar': False, 'staticPlot': True},
               post_script="document.body.style.margin='0';document.body.style.padding='0';"
                           "document.body.style.overflow='hidden';")
